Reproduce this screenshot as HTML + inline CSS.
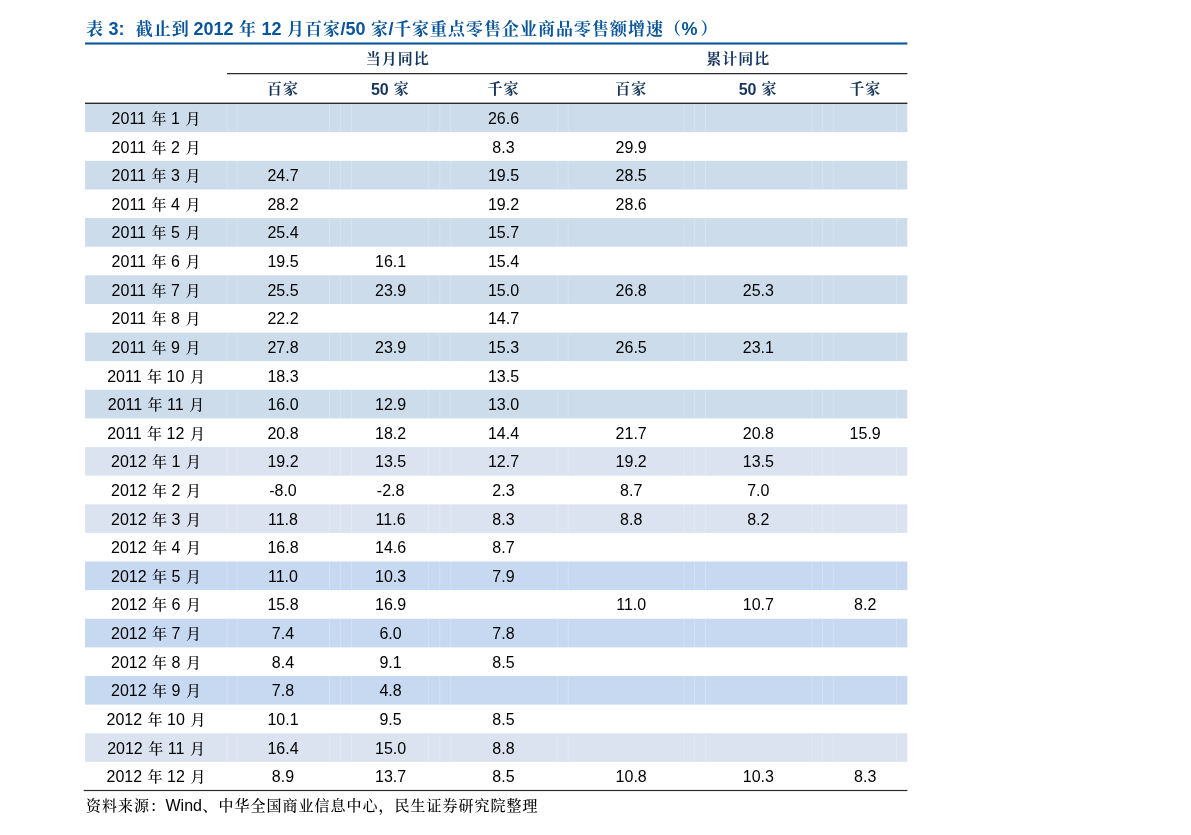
<!DOCTYPE html>
<html lang="zh-CN"><head><meta charset="utf-8"><title>表 3</title><style>
html,body{margin:0;padding:0;background:#fff;}
body{width:1191px;height:835px;position:relative;overflow:hidden;font-family:"Liberation Sans","Noto Serif CJK SC",sans-serif;color:#000;}
.k{font-family:"Noto Serif CJK SC","Liberation Sans",serif;line-height:0;font-weight:500;}
#title{position:absolute;left:85.4px;top:16.5px;height:24px;line-height:24px;font-size:18px;font-weight:bold;color:#0a559b;white-space:pre;margin:0;}
#title .k{font-weight:700;font-size:17px;letter-spacing:1px;margin-left:.5px;margin-right:-.5px;}
#title .p2{margin-left:3px;}
#title .p1{margin-left:1.3px;margin-right:-1.3px;}
#bg{position:absolute;left:0;top:0;}
.row{position:absolute;left:85px;width:822.3px;height:28.62px;}
.c{position:absolute;top:1.35px;height:28.62px;line-height:28.62px;font-size:16px;text-align:center;white-space:pre;}
.c .k{font-size:15px;}
.c .m{margin-left:1.2px;}
.c .y{margin-left:1px;}
.kk{letter-spacing:-1.2px;}
.h{position:absolute;height:24px;line-height:24px;font-size:16px;font-weight:bold;color:#17365d;text-align:center;white-space:pre;}
.h .k{position:relative;top:-.7px;font-weight:700;font-size:15px;letter-spacing:1px;margin-left:.5px;margin-right:-.5px;}
#src{position:absolute;left:85.5px;top:795px;height:22px;line-height:22px;font-size:16px;white-space:pre;color:#000;margin:0;}
#src .k{font-size:15px;letter-spacing:1px;margin-left:.5px;margin-right:-.5px;}
</style></head><body>
<svg id="bg" width="1191" height="835" viewBox="0 0 1191 835">
<rect x="85" y="42.45" width="822.4" height="2.1" fill="#0a559b"/>
<rect x="85.1" y="103.60" width="822.3" height="28.62" fill="#ccdceb"/>
<rect x="226.7" y="103.60" width="1" height="28.62" fill="#fff" fill-opacity=".22"/>
<rect x="236.7" y="103.60" width="1" height="28.62" fill="#fff" fill-opacity=".22"/>
<rect x="329.0" y="103.60" width="1" height="28.62" fill="#fff" fill-opacity=".22"/>
<rect x="340.0" y="103.60" width="1" height="28.62" fill="#fff" fill-opacity=".22"/>
<rect x="350.9" y="103.60" width="1" height="28.62" fill="#fff" fill-opacity=".22"/>
<rect x="428.1" y="103.60" width="1" height="28.62" fill="#fff" fill-opacity=".22"/>
<rect x="439.3" y="103.60" width="1" height="28.62" fill="#fff" fill-opacity=".22"/>
<rect x="450.2" y="103.60" width="1" height="28.62" fill="#fff" fill-opacity=".22"/>
<rect x="556.8" y="103.60" width="1" height="28.62" fill="#fff" fill-opacity=".22"/>
<rect x="567.7" y="103.60" width="1" height="28.62" fill="#fff" fill-opacity=".22"/>
<rect x="683.5" y="103.60" width="1" height="28.62" fill="#fff" fill-opacity=".22"/>
<rect x="694.1" y="103.60" width="1" height="28.62" fill="#fff" fill-opacity=".22"/>
<rect x="705.0" y="103.60" width="1" height="28.62" fill="#fff" fill-opacity=".22"/>
<rect x="811.3" y="103.60" width="1" height="28.62" fill="#fff" fill-opacity=".22"/>
<rect x="821.9" y="103.60" width="1" height="28.62" fill="#fff" fill-opacity=".22"/>
<rect x="832.8" y="103.60" width="1" height="28.62" fill="#fff" fill-opacity=".22"/>
<rect x="896.0" y="103.60" width="1" height="28.62" fill="#fff" fill-opacity=".22"/>
<rect x="85.1" y="160.84" width="822.3" height="28.62" fill="#ccdceb"/>
<rect x="226.7" y="160.84" width="1" height="28.62" fill="#fff" fill-opacity=".22"/>
<rect x="236.7" y="160.84" width="1" height="28.62" fill="#fff" fill-opacity=".22"/>
<rect x="329.0" y="160.84" width="1" height="28.62" fill="#fff" fill-opacity=".22"/>
<rect x="340.0" y="160.84" width="1" height="28.62" fill="#fff" fill-opacity=".22"/>
<rect x="350.9" y="160.84" width="1" height="28.62" fill="#fff" fill-opacity=".22"/>
<rect x="428.1" y="160.84" width="1" height="28.62" fill="#fff" fill-opacity=".22"/>
<rect x="439.3" y="160.84" width="1" height="28.62" fill="#fff" fill-opacity=".22"/>
<rect x="450.2" y="160.84" width="1" height="28.62" fill="#fff" fill-opacity=".22"/>
<rect x="556.8" y="160.84" width="1" height="28.62" fill="#fff" fill-opacity=".22"/>
<rect x="567.7" y="160.84" width="1" height="28.62" fill="#fff" fill-opacity=".22"/>
<rect x="683.5" y="160.84" width="1" height="28.62" fill="#fff" fill-opacity=".22"/>
<rect x="694.1" y="160.84" width="1" height="28.62" fill="#fff" fill-opacity=".22"/>
<rect x="705.0" y="160.84" width="1" height="28.62" fill="#fff" fill-opacity=".22"/>
<rect x="811.3" y="160.84" width="1" height="28.62" fill="#fff" fill-opacity=".22"/>
<rect x="821.9" y="160.84" width="1" height="28.62" fill="#fff" fill-opacity=".22"/>
<rect x="832.8" y="160.84" width="1" height="28.62" fill="#fff" fill-opacity=".22"/>
<rect x="896.0" y="160.84" width="1" height="28.62" fill="#fff" fill-opacity=".22"/>
<rect x="85.1" y="218.08" width="822.3" height="28.62" fill="#ccdceb"/>
<rect x="226.7" y="218.08" width="1" height="28.62" fill="#fff" fill-opacity=".22"/>
<rect x="236.7" y="218.08" width="1" height="28.62" fill="#fff" fill-opacity=".22"/>
<rect x="329.0" y="218.08" width="1" height="28.62" fill="#fff" fill-opacity=".22"/>
<rect x="340.0" y="218.08" width="1" height="28.62" fill="#fff" fill-opacity=".22"/>
<rect x="350.9" y="218.08" width="1" height="28.62" fill="#fff" fill-opacity=".22"/>
<rect x="428.1" y="218.08" width="1" height="28.62" fill="#fff" fill-opacity=".22"/>
<rect x="439.3" y="218.08" width="1" height="28.62" fill="#fff" fill-opacity=".22"/>
<rect x="450.2" y="218.08" width="1" height="28.62" fill="#fff" fill-opacity=".22"/>
<rect x="556.8" y="218.08" width="1" height="28.62" fill="#fff" fill-opacity=".22"/>
<rect x="567.7" y="218.08" width="1" height="28.62" fill="#fff" fill-opacity=".22"/>
<rect x="683.5" y="218.08" width="1" height="28.62" fill="#fff" fill-opacity=".22"/>
<rect x="694.1" y="218.08" width="1" height="28.62" fill="#fff" fill-opacity=".22"/>
<rect x="705.0" y="218.08" width="1" height="28.62" fill="#fff" fill-opacity=".22"/>
<rect x="811.3" y="218.08" width="1" height="28.62" fill="#fff" fill-opacity=".22"/>
<rect x="821.9" y="218.08" width="1" height="28.62" fill="#fff" fill-opacity=".22"/>
<rect x="832.8" y="218.08" width="1" height="28.62" fill="#fff" fill-opacity=".22"/>
<rect x="896.0" y="218.08" width="1" height="28.62" fill="#fff" fill-opacity=".22"/>
<rect x="85.1" y="275.32" width="822.3" height="28.62" fill="#ccdceb"/>
<rect x="226.7" y="275.32" width="1" height="28.62" fill="#fff" fill-opacity=".22"/>
<rect x="236.7" y="275.32" width="1" height="28.62" fill="#fff" fill-opacity=".22"/>
<rect x="329.0" y="275.32" width="1" height="28.62" fill="#fff" fill-opacity=".22"/>
<rect x="340.0" y="275.32" width="1" height="28.62" fill="#fff" fill-opacity=".22"/>
<rect x="350.9" y="275.32" width="1" height="28.62" fill="#fff" fill-opacity=".22"/>
<rect x="428.1" y="275.32" width="1" height="28.62" fill="#fff" fill-opacity=".22"/>
<rect x="439.3" y="275.32" width="1" height="28.62" fill="#fff" fill-opacity=".22"/>
<rect x="450.2" y="275.32" width="1" height="28.62" fill="#fff" fill-opacity=".22"/>
<rect x="556.8" y="275.32" width="1" height="28.62" fill="#fff" fill-opacity=".22"/>
<rect x="567.7" y="275.32" width="1" height="28.62" fill="#fff" fill-opacity=".22"/>
<rect x="683.5" y="275.32" width="1" height="28.62" fill="#fff" fill-opacity=".22"/>
<rect x="694.1" y="275.32" width="1" height="28.62" fill="#fff" fill-opacity=".22"/>
<rect x="705.0" y="275.32" width="1" height="28.62" fill="#fff" fill-opacity=".22"/>
<rect x="811.3" y="275.32" width="1" height="28.62" fill="#fff" fill-opacity=".22"/>
<rect x="821.9" y="275.32" width="1" height="28.62" fill="#fff" fill-opacity=".22"/>
<rect x="832.8" y="275.32" width="1" height="28.62" fill="#fff" fill-opacity=".22"/>
<rect x="896.0" y="275.32" width="1" height="28.62" fill="#fff" fill-opacity=".22"/>
<rect x="85.1" y="332.56" width="822.3" height="28.62" fill="#ccdceb"/>
<rect x="226.7" y="332.56" width="1" height="28.62" fill="#fff" fill-opacity=".22"/>
<rect x="236.7" y="332.56" width="1" height="28.62" fill="#fff" fill-opacity=".22"/>
<rect x="329.0" y="332.56" width="1" height="28.62" fill="#fff" fill-opacity=".22"/>
<rect x="340.0" y="332.56" width="1" height="28.62" fill="#fff" fill-opacity=".22"/>
<rect x="350.9" y="332.56" width="1" height="28.62" fill="#fff" fill-opacity=".22"/>
<rect x="428.1" y="332.56" width="1" height="28.62" fill="#fff" fill-opacity=".22"/>
<rect x="439.3" y="332.56" width="1" height="28.62" fill="#fff" fill-opacity=".22"/>
<rect x="450.2" y="332.56" width="1" height="28.62" fill="#fff" fill-opacity=".22"/>
<rect x="556.8" y="332.56" width="1" height="28.62" fill="#fff" fill-opacity=".22"/>
<rect x="567.7" y="332.56" width="1" height="28.62" fill="#fff" fill-opacity=".22"/>
<rect x="683.5" y="332.56" width="1" height="28.62" fill="#fff" fill-opacity=".22"/>
<rect x="694.1" y="332.56" width="1" height="28.62" fill="#fff" fill-opacity=".22"/>
<rect x="705.0" y="332.56" width="1" height="28.62" fill="#fff" fill-opacity=".22"/>
<rect x="811.3" y="332.56" width="1" height="28.62" fill="#fff" fill-opacity=".22"/>
<rect x="821.9" y="332.56" width="1" height="28.62" fill="#fff" fill-opacity=".22"/>
<rect x="832.8" y="332.56" width="1" height="28.62" fill="#fff" fill-opacity=".22"/>
<rect x="896.0" y="332.56" width="1" height="28.62" fill="#fff" fill-opacity=".22"/>
<rect x="85.1" y="389.80" width="822.3" height="28.62" fill="#ccdceb"/>
<rect x="226.7" y="389.80" width="1" height="28.62" fill="#fff" fill-opacity=".22"/>
<rect x="236.7" y="389.80" width="1" height="28.62" fill="#fff" fill-opacity=".22"/>
<rect x="329.0" y="389.80" width="1" height="28.62" fill="#fff" fill-opacity=".22"/>
<rect x="340.0" y="389.80" width="1" height="28.62" fill="#fff" fill-opacity=".22"/>
<rect x="350.9" y="389.80" width="1" height="28.62" fill="#fff" fill-opacity=".22"/>
<rect x="428.1" y="389.80" width="1" height="28.62" fill="#fff" fill-opacity=".22"/>
<rect x="439.3" y="389.80" width="1" height="28.62" fill="#fff" fill-opacity=".22"/>
<rect x="450.2" y="389.80" width="1" height="28.62" fill="#fff" fill-opacity=".22"/>
<rect x="556.8" y="389.80" width="1" height="28.62" fill="#fff" fill-opacity=".22"/>
<rect x="567.7" y="389.80" width="1" height="28.62" fill="#fff" fill-opacity=".22"/>
<rect x="683.5" y="389.80" width="1" height="28.62" fill="#fff" fill-opacity=".22"/>
<rect x="694.1" y="389.80" width="1" height="28.62" fill="#fff" fill-opacity=".22"/>
<rect x="705.0" y="389.80" width="1" height="28.62" fill="#fff" fill-opacity=".22"/>
<rect x="811.3" y="389.80" width="1" height="28.62" fill="#fff" fill-opacity=".22"/>
<rect x="821.9" y="389.80" width="1" height="28.62" fill="#fff" fill-opacity=".22"/>
<rect x="832.8" y="389.80" width="1" height="28.62" fill="#fff" fill-opacity=".22"/>
<rect x="896.0" y="389.80" width="1" height="28.62" fill="#fff" fill-opacity=".22"/>
<rect x="85.1" y="447.04" width="822.3" height="28.62" fill="#dce3f0"/>
<rect x="226.7" y="447.04" width="1" height="28.62" fill="#fff" fill-opacity=".22"/>
<rect x="236.7" y="447.04" width="1" height="28.62" fill="#fff" fill-opacity=".22"/>
<rect x="329.0" y="447.04" width="1" height="28.62" fill="#fff" fill-opacity=".22"/>
<rect x="340.0" y="447.04" width="1" height="28.62" fill="#fff" fill-opacity=".22"/>
<rect x="350.9" y="447.04" width="1" height="28.62" fill="#fff" fill-opacity=".22"/>
<rect x="428.1" y="447.04" width="1" height="28.62" fill="#fff" fill-opacity=".22"/>
<rect x="439.3" y="447.04" width="1" height="28.62" fill="#fff" fill-opacity=".22"/>
<rect x="450.2" y="447.04" width="1" height="28.62" fill="#fff" fill-opacity=".22"/>
<rect x="556.8" y="447.04" width="1" height="28.62" fill="#fff" fill-opacity=".22"/>
<rect x="567.7" y="447.04" width="1" height="28.62" fill="#fff" fill-opacity=".22"/>
<rect x="683.5" y="447.04" width="1" height="28.62" fill="#fff" fill-opacity=".22"/>
<rect x="694.1" y="447.04" width="1" height="28.62" fill="#fff" fill-opacity=".22"/>
<rect x="705.0" y="447.04" width="1" height="28.62" fill="#fff" fill-opacity=".22"/>
<rect x="811.3" y="447.04" width="1" height="28.62" fill="#fff" fill-opacity=".22"/>
<rect x="821.9" y="447.04" width="1" height="28.62" fill="#fff" fill-opacity=".22"/>
<rect x="832.8" y="447.04" width="1" height="28.62" fill="#fff" fill-opacity=".22"/>
<rect x="896.0" y="447.04" width="1" height="28.62" fill="#fff" fill-opacity=".22"/>
<rect x="85.1" y="504.28" width="822.3" height="28.62" fill="#dce3f0"/>
<rect x="226.7" y="504.28" width="1" height="28.62" fill="#fff" fill-opacity=".22"/>
<rect x="236.7" y="504.28" width="1" height="28.62" fill="#fff" fill-opacity=".22"/>
<rect x="329.0" y="504.28" width="1" height="28.62" fill="#fff" fill-opacity=".22"/>
<rect x="340.0" y="504.28" width="1" height="28.62" fill="#fff" fill-opacity=".22"/>
<rect x="350.9" y="504.28" width="1" height="28.62" fill="#fff" fill-opacity=".22"/>
<rect x="428.1" y="504.28" width="1" height="28.62" fill="#fff" fill-opacity=".22"/>
<rect x="439.3" y="504.28" width="1" height="28.62" fill="#fff" fill-opacity=".22"/>
<rect x="450.2" y="504.28" width="1" height="28.62" fill="#fff" fill-opacity=".22"/>
<rect x="556.8" y="504.28" width="1" height="28.62" fill="#fff" fill-opacity=".22"/>
<rect x="567.7" y="504.28" width="1" height="28.62" fill="#fff" fill-opacity=".22"/>
<rect x="683.5" y="504.28" width="1" height="28.62" fill="#fff" fill-opacity=".22"/>
<rect x="694.1" y="504.28" width="1" height="28.62" fill="#fff" fill-opacity=".22"/>
<rect x="705.0" y="504.28" width="1" height="28.62" fill="#fff" fill-opacity=".22"/>
<rect x="811.3" y="504.28" width="1" height="28.62" fill="#fff" fill-opacity=".22"/>
<rect x="821.9" y="504.28" width="1" height="28.62" fill="#fff" fill-opacity=".22"/>
<rect x="832.8" y="504.28" width="1" height="28.62" fill="#fff" fill-opacity=".22"/>
<rect x="896.0" y="504.28" width="1" height="28.62" fill="#fff" fill-opacity=".22"/>
<rect x="85.1" y="561.52" width="822.3" height="28.62" fill="#c6d9f1"/>
<rect x="226.7" y="561.52" width="1" height="28.62" fill="#fff" fill-opacity=".22"/>
<rect x="236.7" y="561.52" width="1" height="28.62" fill="#fff" fill-opacity=".22"/>
<rect x="329.0" y="561.52" width="1" height="28.62" fill="#fff" fill-opacity=".22"/>
<rect x="340.0" y="561.52" width="1" height="28.62" fill="#fff" fill-opacity=".22"/>
<rect x="350.9" y="561.52" width="1" height="28.62" fill="#fff" fill-opacity=".22"/>
<rect x="428.1" y="561.52" width="1" height="28.62" fill="#fff" fill-opacity=".22"/>
<rect x="439.3" y="561.52" width="1" height="28.62" fill="#fff" fill-opacity=".22"/>
<rect x="450.2" y="561.52" width="1" height="28.62" fill="#fff" fill-opacity=".22"/>
<rect x="556.8" y="561.52" width="1" height="28.62" fill="#fff" fill-opacity=".22"/>
<rect x="567.7" y="561.52" width="1" height="28.62" fill="#fff" fill-opacity=".22"/>
<rect x="683.5" y="561.52" width="1" height="28.62" fill="#fff" fill-opacity=".22"/>
<rect x="694.1" y="561.52" width="1" height="28.62" fill="#fff" fill-opacity=".22"/>
<rect x="705.0" y="561.52" width="1" height="28.62" fill="#fff" fill-opacity=".22"/>
<rect x="811.3" y="561.52" width="1" height="28.62" fill="#fff" fill-opacity=".22"/>
<rect x="821.9" y="561.52" width="1" height="28.62" fill="#fff" fill-opacity=".22"/>
<rect x="832.8" y="561.52" width="1" height="28.62" fill="#fff" fill-opacity=".22"/>
<rect x="896.0" y="561.52" width="1" height="28.62" fill="#fff" fill-opacity=".22"/>
<rect x="85.1" y="618.76" width="822.3" height="28.62" fill="#c6d9f1"/>
<rect x="226.7" y="618.76" width="1" height="28.62" fill="#fff" fill-opacity=".22"/>
<rect x="236.7" y="618.76" width="1" height="28.62" fill="#fff" fill-opacity=".22"/>
<rect x="329.0" y="618.76" width="1" height="28.62" fill="#fff" fill-opacity=".22"/>
<rect x="340.0" y="618.76" width="1" height="28.62" fill="#fff" fill-opacity=".22"/>
<rect x="350.9" y="618.76" width="1" height="28.62" fill="#fff" fill-opacity=".22"/>
<rect x="428.1" y="618.76" width="1" height="28.62" fill="#fff" fill-opacity=".22"/>
<rect x="439.3" y="618.76" width="1" height="28.62" fill="#fff" fill-opacity=".22"/>
<rect x="450.2" y="618.76" width="1" height="28.62" fill="#fff" fill-opacity=".22"/>
<rect x="556.8" y="618.76" width="1" height="28.62" fill="#fff" fill-opacity=".22"/>
<rect x="567.7" y="618.76" width="1" height="28.62" fill="#fff" fill-opacity=".22"/>
<rect x="683.5" y="618.76" width="1" height="28.62" fill="#fff" fill-opacity=".22"/>
<rect x="694.1" y="618.76" width="1" height="28.62" fill="#fff" fill-opacity=".22"/>
<rect x="705.0" y="618.76" width="1" height="28.62" fill="#fff" fill-opacity=".22"/>
<rect x="811.3" y="618.76" width="1" height="28.62" fill="#fff" fill-opacity=".22"/>
<rect x="821.9" y="618.76" width="1" height="28.62" fill="#fff" fill-opacity=".22"/>
<rect x="832.8" y="618.76" width="1" height="28.62" fill="#fff" fill-opacity=".22"/>
<rect x="896.0" y="618.76" width="1" height="28.62" fill="#fff" fill-opacity=".22"/>
<rect x="85.1" y="676.00" width="822.3" height="28.62" fill="#c6d9f1"/>
<rect x="226.7" y="676.00" width="1" height="28.62" fill="#fff" fill-opacity=".22"/>
<rect x="236.7" y="676.00" width="1" height="28.62" fill="#fff" fill-opacity=".22"/>
<rect x="329.0" y="676.00" width="1" height="28.62" fill="#fff" fill-opacity=".22"/>
<rect x="340.0" y="676.00" width="1" height="28.62" fill="#fff" fill-opacity=".22"/>
<rect x="350.9" y="676.00" width="1" height="28.62" fill="#fff" fill-opacity=".22"/>
<rect x="428.1" y="676.00" width="1" height="28.62" fill="#fff" fill-opacity=".22"/>
<rect x="439.3" y="676.00" width="1" height="28.62" fill="#fff" fill-opacity=".22"/>
<rect x="450.2" y="676.00" width="1" height="28.62" fill="#fff" fill-opacity=".22"/>
<rect x="556.8" y="676.00" width="1" height="28.62" fill="#fff" fill-opacity=".22"/>
<rect x="567.7" y="676.00" width="1" height="28.62" fill="#fff" fill-opacity=".22"/>
<rect x="683.5" y="676.00" width="1" height="28.62" fill="#fff" fill-opacity=".22"/>
<rect x="694.1" y="676.00" width="1" height="28.62" fill="#fff" fill-opacity=".22"/>
<rect x="705.0" y="676.00" width="1" height="28.62" fill="#fff" fill-opacity=".22"/>
<rect x="811.3" y="676.00" width="1" height="28.62" fill="#fff" fill-opacity=".22"/>
<rect x="821.9" y="676.00" width="1" height="28.62" fill="#fff" fill-opacity=".22"/>
<rect x="832.8" y="676.00" width="1" height="28.62" fill="#fff" fill-opacity=".22"/>
<rect x="896.0" y="676.00" width="1" height="28.62" fill="#fff" fill-opacity=".22"/>
<rect x="85.1" y="733.24" width="822.3" height="28.62" fill="#dce3f0"/>
<rect x="226.7" y="733.24" width="1" height="28.62" fill="#fff" fill-opacity=".22"/>
<rect x="236.7" y="733.24" width="1" height="28.62" fill="#fff" fill-opacity=".22"/>
<rect x="329.0" y="733.24" width="1" height="28.62" fill="#fff" fill-opacity=".22"/>
<rect x="340.0" y="733.24" width="1" height="28.62" fill="#fff" fill-opacity=".22"/>
<rect x="350.9" y="733.24" width="1" height="28.62" fill="#fff" fill-opacity=".22"/>
<rect x="428.1" y="733.24" width="1" height="28.62" fill="#fff" fill-opacity=".22"/>
<rect x="439.3" y="733.24" width="1" height="28.62" fill="#fff" fill-opacity=".22"/>
<rect x="450.2" y="733.24" width="1" height="28.62" fill="#fff" fill-opacity=".22"/>
<rect x="556.8" y="733.24" width="1" height="28.62" fill="#fff" fill-opacity=".22"/>
<rect x="567.7" y="733.24" width="1" height="28.62" fill="#fff" fill-opacity=".22"/>
<rect x="683.5" y="733.24" width="1" height="28.62" fill="#fff" fill-opacity=".22"/>
<rect x="694.1" y="733.24" width="1" height="28.62" fill="#fff" fill-opacity=".22"/>
<rect x="705.0" y="733.24" width="1" height="28.62" fill="#fff" fill-opacity=".22"/>
<rect x="811.3" y="733.24" width="1" height="28.62" fill="#fff" fill-opacity=".22"/>
<rect x="821.9" y="733.24" width="1" height="28.62" fill="#fff" fill-opacity=".22"/>
<rect x="832.8" y="733.24" width="1" height="28.62" fill="#fff" fill-opacity=".22"/>
<rect x="896.0" y="733.24" width="1" height="28.62" fill="#fff" fill-opacity=".22"/>
<rect x="227" y="73" width="680.4" height="1.25" fill="#2b2b2b"/>
<rect x="85" y="102.6" width="822.4" height="1.4" fill="#2b2b2b"/>
<rect x="83.7" y="789.9" width="823.7" height="1.2" fill="#2b2b2b"/>
</svg>
<h1 id="title"><span class="k">表</span> 3:  <span class="k p1">截止到</span> 2012 <span class="k">年</span> 12 <span class="k">月百家</span>/50 <span class="k">家</span>/<span class="k">千家重点零售企业商品零售额增速（</span>%<span class="k p2">）</span></h1>
<div class="h" style="left:237.0px;width:320.3px;top:47.5px"><span class="k">当月同比</span></div>
<div class="h" style="left:579.0px;width:317.5px;top:47.5px"><span class="k">累计同比</span></div>
<div class="h" style="left:235.9px;width:93.2px;top:77.8px"><span class="k">百家</span></div>
<div class="h" style="left:351.5px;width:77.2px;top:77.8px">50 <span class="k">家</span></div>
<div class="h" style="left:449.7px;width:106.6px;top:77.8px"><span class="k">千家</span></div>
<div class="h" style="left:578.2px;width:105.0px;top:77.8px"><span class="k">百家</span></div>
<div class="h" style="left:704.7px;width:106.3px;top:77.8px">50 <span class="k">家</span></div>
<div class="h" style="left:833.1px;width:63.2px;top:77.8px"><span class="k">千家</span></div>
<div class="row" style="top:103.60px;">
<div class="c" style="left:0.3px;width:141.5px">20<span class="kk">1</span>1 <span class="k y">年</span> 1 <span class="k m">月</span></div>
<div class="c" style="left:365.2px;width:106.6px">26.6</div>
</div>
<div class="row" style="top:132.22px;">
<div class="c" style="left:0.3px;width:141.5px">20<span class="kk">1</span>1 <span class="k y">年</span> 2 <span class="k m">月</span></div>
<div class="c" style="left:365.2px;width:106.6px">8.3</div>
<div class="c" style="left:493.7px;width:105.0px">29.9</div>
</div>
<div class="row" style="top:160.84px;">
<div class="c" style="left:0.3px;width:141.5px">20<span class="kk">1</span>1 <span class="k y">年</span> 3 <span class="k m">月</span></div>
<div class="c" style="left:151.4px;width:93.2px">24.7</div>
<div class="c" style="left:365.2px;width:106.6px">19.5</div>
<div class="c" style="left:493.7px;width:105.0px">28.5</div>
</div>
<div class="row" style="top:189.46px;">
<div class="c" style="left:0.3px;width:141.5px">20<span class="kk">1</span>1 <span class="k y">年</span> 4 <span class="k m">月</span></div>
<div class="c" style="left:151.4px;width:93.2px">28.2</div>
<div class="c" style="left:365.2px;width:106.6px">19.2</div>
<div class="c" style="left:493.7px;width:105.0px">28.6</div>
</div>
<div class="row" style="top:218.08px;">
<div class="c" style="left:0.3px;width:141.5px">20<span class="kk">1</span>1 <span class="k y">年</span> 5 <span class="k m">月</span></div>
<div class="c" style="left:151.4px;width:93.2px">25.4</div>
<div class="c" style="left:365.2px;width:106.6px">15.7</div>
</div>
<div class="row" style="top:246.70px;">
<div class="c" style="left:0.3px;width:141.5px">20<span class="kk">1</span>1 <span class="k y">年</span> 6 <span class="k m">月</span></div>
<div class="c" style="left:151.4px;width:93.2px">19.5</div>
<div class="c" style="left:267.0px;width:77.2px">16.1</div>
<div class="c" style="left:365.2px;width:106.6px">15.4</div>
</div>
<div class="row" style="top:275.32px;">
<div class="c" style="left:0.3px;width:141.5px">20<span class="kk">1</span>1 <span class="k y">年</span> 7 <span class="k m">月</span></div>
<div class="c" style="left:151.4px;width:93.2px">25.5</div>
<div class="c" style="left:267.0px;width:77.2px">23.9</div>
<div class="c" style="left:365.2px;width:106.6px">15.0</div>
<div class="c" style="left:493.7px;width:105.0px">26.8</div>
<div class="c" style="left:620.2px;width:106.3px">25.3</div>
</div>
<div class="row" style="top:303.94px;">
<div class="c" style="left:0.3px;width:141.5px">20<span class="kk">1</span>1 <span class="k y">年</span> 8 <span class="k m">月</span></div>
<div class="c" style="left:151.4px;width:93.2px">22.2</div>
<div class="c" style="left:365.2px;width:106.6px">14.7</div>
</div>
<div class="row" style="top:332.56px;">
<div class="c" style="left:0.3px;width:141.5px">20<span class="kk">1</span>1 <span class="k y">年</span> 9 <span class="k m">月</span></div>
<div class="c" style="left:151.4px;width:93.2px">27.8</div>
<div class="c" style="left:267.0px;width:77.2px">23.9</div>
<div class="c" style="left:365.2px;width:106.6px">15.3</div>
<div class="c" style="left:493.7px;width:105.0px">26.5</div>
<div class="c" style="left:620.2px;width:106.3px">23.1</div>
</div>
<div class="row" style="top:361.18px;">
<div class="c" style="left:0.3px;width:141.5px">20<span class="kk">1</span>1 <span class="k y">年</span> 10 <span class="k m">月</span></div>
<div class="c" style="left:151.4px;width:93.2px">18.3</div>
<div class="c" style="left:365.2px;width:106.6px">13.5</div>
</div>
<div class="row" style="top:389.80px;">
<div class="c" style="left:0.3px;width:141.5px">20<span class="kk">1</span>1 <span class="k y">年</span> <span class="kk">1</span>1 <span class="k m">月</span></div>
<div class="c" style="left:151.4px;width:93.2px">16.0</div>
<div class="c" style="left:267.0px;width:77.2px">12.9</div>
<div class="c" style="left:365.2px;width:106.6px">13.0</div>
</div>
<div class="row" style="top:418.42px;">
<div class="c" style="left:0.3px;width:141.5px">20<span class="kk">1</span>1 <span class="k y">年</span> 12 <span class="k m">月</span></div>
<div class="c" style="left:151.4px;width:93.2px">20.8</div>
<div class="c" style="left:267.0px;width:77.2px">18.2</div>
<div class="c" style="left:365.2px;width:106.6px">14.4</div>
<div class="c" style="left:493.7px;width:105.0px">21.7</div>
<div class="c" style="left:620.2px;width:106.3px">20.8</div>
<div class="c" style="left:748.6px;width:63.2px">15.9</div>
</div>
<div class="row" style="top:447.04px;">
<div class="c" style="left:0.3px;width:141.5px">2012 <span class="k y">年</span> 1 <span class="k m">月</span></div>
<div class="c" style="left:151.4px;width:93.2px">19.2</div>
<div class="c" style="left:267.0px;width:77.2px">13.5</div>
<div class="c" style="left:365.2px;width:106.6px">12.7</div>
<div class="c" style="left:493.7px;width:105.0px">19.2</div>
<div class="c" style="left:620.2px;width:106.3px">13.5</div>
</div>
<div class="row" style="top:475.66px;">
<div class="c" style="left:0.3px;width:141.5px">2012 <span class="k y">年</span> 2 <span class="k m">月</span></div>
<div class="c" style="left:151.4px;width:93.2px">-8.0</div>
<div class="c" style="left:267.0px;width:77.2px">-2.8</div>
<div class="c" style="left:365.2px;width:106.6px">2.3</div>
<div class="c" style="left:493.7px;width:105.0px">8.7</div>
<div class="c" style="left:620.2px;width:106.3px">7.0</div>
</div>
<div class="row" style="top:504.28px;">
<div class="c" style="left:0.3px;width:141.5px">2012 <span class="k y">年</span> 3 <span class="k m">月</span></div>
<div class="c" style="left:151.4px;width:93.2px"><span class="kk">1</span>1.8</div>
<div class="c" style="left:267.0px;width:77.2px"><span class="kk">1</span>1.6</div>
<div class="c" style="left:365.2px;width:106.6px">8.3</div>
<div class="c" style="left:493.7px;width:105.0px">8.8</div>
<div class="c" style="left:620.2px;width:106.3px">8.2</div>
</div>
<div class="row" style="top:532.90px;">
<div class="c" style="left:0.3px;width:141.5px">2012 <span class="k y">年</span> 4 <span class="k m">月</span></div>
<div class="c" style="left:151.4px;width:93.2px">16.8</div>
<div class="c" style="left:267.0px;width:77.2px">14.6</div>
<div class="c" style="left:365.2px;width:106.6px">8.7</div>
</div>
<div class="row" style="top:561.52px;">
<div class="c" style="left:0.3px;width:141.5px">2012 <span class="k y">年</span> 5 <span class="k m">月</span></div>
<div class="c" style="left:151.4px;width:93.2px"><span class="kk">1</span>1.0</div>
<div class="c" style="left:267.0px;width:77.2px">10.3</div>
<div class="c" style="left:365.2px;width:106.6px">7.9</div>
</div>
<div class="row" style="top:590.14px;">
<div class="c" style="left:0.3px;width:141.5px">2012 <span class="k y">年</span> 6 <span class="k m">月</span></div>
<div class="c" style="left:151.4px;width:93.2px">15.8</div>
<div class="c" style="left:267.0px;width:77.2px">16.9</div>
<div class="c" style="left:493.7px;width:105.0px"><span class="kk">1</span>1.0</div>
<div class="c" style="left:620.2px;width:106.3px">10.7</div>
<div class="c" style="left:748.6px;width:63.2px">8.2</div>
</div>
<div class="row" style="top:618.76px;">
<div class="c" style="left:0.3px;width:141.5px">2012 <span class="k y">年</span> 7 <span class="k m">月</span></div>
<div class="c" style="left:151.4px;width:93.2px">7.4</div>
<div class="c" style="left:267.0px;width:77.2px">6.0</div>
<div class="c" style="left:365.2px;width:106.6px">7.8</div>
</div>
<div class="row" style="top:647.38px;">
<div class="c" style="left:0.3px;width:141.5px">2012 <span class="k y">年</span> 8 <span class="k m">月</span></div>
<div class="c" style="left:151.4px;width:93.2px">8.4</div>
<div class="c" style="left:267.0px;width:77.2px">9.1</div>
<div class="c" style="left:365.2px;width:106.6px">8.5</div>
</div>
<div class="row" style="top:676.00px;">
<div class="c" style="left:0.3px;width:141.5px">2012 <span class="k y">年</span> 9 <span class="k m">月</span></div>
<div class="c" style="left:151.4px;width:93.2px">7.8</div>
<div class="c" style="left:267.0px;width:77.2px">4.8</div>
</div>
<div class="row" style="top:704.62px;">
<div class="c" style="left:0.3px;width:141.5px">2012 <span class="k y">年</span> 10 <span class="k m">月</span></div>
<div class="c" style="left:151.4px;width:93.2px">10.1</div>
<div class="c" style="left:267.0px;width:77.2px">9.5</div>
<div class="c" style="left:365.2px;width:106.6px">8.5</div>
</div>
<div class="row" style="top:733.24px;">
<div class="c" style="left:0.3px;width:141.5px">2012 <span class="k y">年</span> <span class="kk">1</span>1 <span class="k m">月</span></div>
<div class="c" style="left:151.4px;width:93.2px">16.4</div>
<div class="c" style="left:267.0px;width:77.2px">15.0</div>
<div class="c" style="left:365.2px;width:106.6px">8.8</div>
</div>
<div class="row" style="top:761.86px;">
<div class="c" style="left:0.3px;width:141.5px">2012 <span class="k y">年</span> 12 <span class="k m">月</span></div>
<div class="c" style="left:151.4px;width:93.2px">8.9</div>
<div class="c" style="left:267.0px;width:77.2px">13.7</div>
<div class="c" style="left:365.2px;width:106.6px">8.5</div>
<div class="c" style="left:493.7px;width:105.0px">10.8</div>
<div class="c" style="left:620.2px;width:106.3px">10.3</div>
<div class="c" style="left:748.6px;width:63.2px">8.3</div>
</div>
<p id="src"><span class="k">资料来源：</span><span class="w">Wind</span><span class="k">、中华全国商业信息中心，民生证券研究院整理</span></p>
</body></html>
